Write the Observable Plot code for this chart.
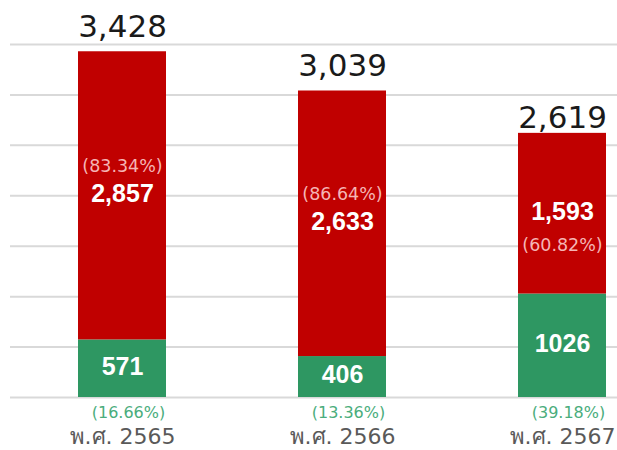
<!DOCTYPE html>
<html>
<head>
<meta charset="utf-8">
<script src="https://cdn.jsdelivr.net/npm/d3@7"></script>
<script src="https://cdn.jsdelivr.net/npm/@observablehq/plot@0.6"></script>
<style>
  html, body { margin: 0; padding: 0; background: #fff; }
  #chart svg { display: block; }
</style>
</head>
<body>
<div id="chart"></div>
<script>
const categories = ["พ.ศ. 2565", "พ.ศ. 2566", "พ.ศ. 2567"];
const greenValues = [571, 406, 1026];
const redValues = [2857, 2633, 1593];
const totals = [3428, 3039, 2619];
const greenPct = ["(16.66%)", "(13.36%)", "(39.18%)"];
const redPct = ["(83.34%)", "(86.64%)", "(60.82%)"];
const gridTicks = [0, 500, 1000, 1500, 2000, 2500, 3000, 3500];

const GREEN = "#2e9762";
const RED = "#c00000";

const rows = [];
categories.forEach((c, i) => {
  rows.push({cat: c, type: "lower", value: greenValues[i], label: String(greenValues[i]), pct: greenPct[i], i});
  rows.push({cat: c, type: "upper", value: redValues[i], label: d3.format(",")(redValues[i]), pct: redPct[i], i});
});
const totalRows = categories.map((c, i) => ({cat: c, total: totals[i], i}));

const base = {x: "cat", y: "value", z: "type"};
const font = "DejaVu Sans, sans-serif";

const chart = Plot.plot({
  width: 617,
  height: 450,
  marginTop: 44,
  marginBottom: 53,
  marginLeft: 10,
  marginRight: 0,
  style: {fontFamily: font, background: "#fff"},
  x: {domain: categories, range: [11.2, 673.8], paddingInner: 0.6, paddingOuter: 0.3, axis: null},
  y: {domain: [0, 3500], axis: null},
  color: {type: "ordinal", domain: ["lower", "upper"], range: [GREEN, RED]},
  marks: [
    Plot.ruleY(gridTicks, {stroke: "#d9d9d9", strokeWidth: 2}),
    Plot.barY(rows, {x: "cat", y: "value", fill: "type"}),
    // totals above bars
    Plot.text(totalRows.filter(d => d.i < 2), {x: "cat", y: "total", text: d => d3.format(",")(d.total),
      lineAnchor: "bottom", dy: -15, fontSize: 31, fill: "#1a1a1a"}),
    Plot.text(totalRows.filter(d => d.i === 2), {x: "cat", y: "total", text: d => d3.format(",")(d.total),
      lineAnchor: "bottom", dy: -5, fontSize: 31, fill: "#1a1a1a"}),
    // value labels inside segments
    Plot.text(rows, Plot.stackY({...base, text: "label", fill: "white", fontWeight: "bold",
      fontSize: 25, fontFamily: "Liberation Sans, Arial, sans-serif", dy: -2})),
    // upper-segment percentages
    Plot.text(rows, Plot.stackY({...base, text: d => d.type === "upper" && d.i < 2 ? d.pct : null,
      fill: "#f5b5b5", fontSize: 17.5, dy: -29})),
    Plot.text(rows, Plot.stackY({...base, text: d => d.type === "upper" && d.i === 2 ? d.pct : null,
      fill: "#f5b5b5", fontSize: 17.5, dy: 32})),
    // lower-segment percentages below bars
    Plot.text(rows.filter(d => d.type === "lower"), {x: "cat", text: "pct", frameAnchor: "bottom",
      lineAnchor: "middle", fill: "#4aad7c", fontSize: 16, dy: 15, dx: 6}),
    // category labels
    Plot.text(categories, {x: d => d, text: d => d, frameAnchor: "bottom",
      lineAnchor: "middle", fill: "#595959", fontSize: 22, dy: 39})
  ]
});
document.getElementById("chart").append(chart);
</script>
</body>
</html>
